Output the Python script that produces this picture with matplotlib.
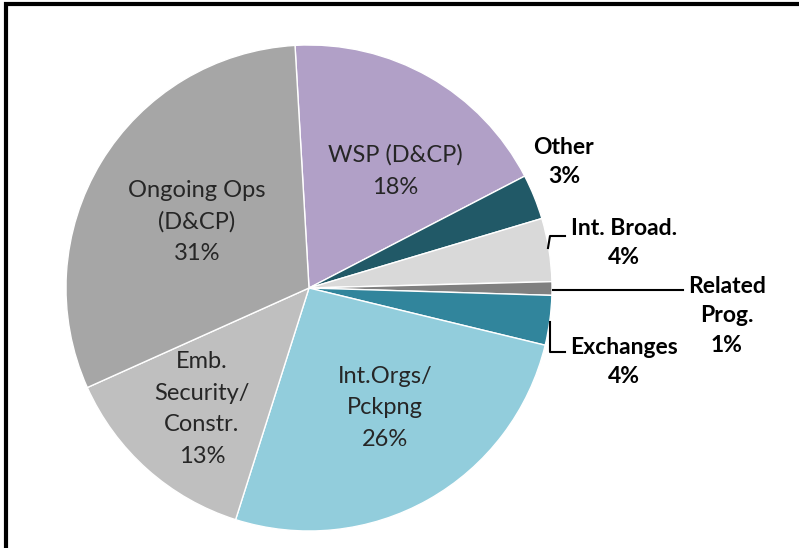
import matplotlib.pyplot as plt

# slice data, clockwise from the top
labels = ["WSP (D&CP)", "Other", "Int. Broad.", "Related Prog.", "Exchanges",
          "Int.Orgs/Pckpng", "Emb. Security/Constr.", "Ongoing Ops (D&CP)"]
shares = [18.3, 3.0, 4.2, 0.9, 3.3, 26.1, 13.4, 30.8]
colors = ["#B1A0C7", "#215967", "#D9D9D9", "#808080", "#31859C",
          "#92CDDC", "#BFBFBF", "#A6A6A6"]

# label texts (shown) and their pixel positions (x, y from top)
inside_text = ["WSP (D&CP)\n18%", "Ongoing Ops\n(D&CP)\n31%",
               "Int.Orgs/\nPckpng\n26%", "Emb.\nSecurity/\nConstr.\n13%"]
inside_pos = [(395, 171), (197, 222), (385, 408), (202, 409)]
outside_text = ["Other\n3%", "Int. Broad.\n4%", "Related\nProg.\n1%", "Exchanges\n4%"]
outside_pos = [(564, 162), (624, 243), (727, 316), (624, 362)]

W, H = 799, 548
fig = plt.figure(figsize=(W / 100, H / 100), dpi=100)
ax = fig.add_axes([0, 0, 1, 1])

ax.pie(shares, colors=colors, startangle=93.3, counterclock=False,
       center=(309, H - 288), radius=243, frame=True,
       wedgeprops=dict(edgecolor="white", linewidth=1.0))
ax.set_xlim(0, W)
ax.set_ylim(0, H)
ax.set_aspect("equal")
ax.axis("off")

font = ["Lato", "DejaVu Sans"]
for t, (x, y) in zip(inside_text, inside_pos):
    ax.text(x, H - y, t, ha="center", va="center", fontsize=17,
            color="#262626", family=font, linespacing=1.62)
for t, (x, y) in zip(outside_text, outside_pos):
    ax.text(x, H - y, t, ha="center", va="center", fontsize=16.5,
            color="black", family=font, fontweight="bold", linespacing=1.52)

# leader lines
ax.plot([548, 550, 565], [H - 248, H - 236, H - 236], color="black", lw=1.5)
ax.plot([553, 683], [H - 290, H - 290], color="black", lw=1.5)
ax.plot([550, 550, 565], [H - 322, H - 352, H - 352], color="black", lw=1.5)

# frame (top and left edges visible)
ax.plot([6, 6, W], [0, H - 4, H - 4], color="black", lw=3,
        solid_joinstyle="miter", clip_on=False)

fig.savefig("out.png", dpi=100)
